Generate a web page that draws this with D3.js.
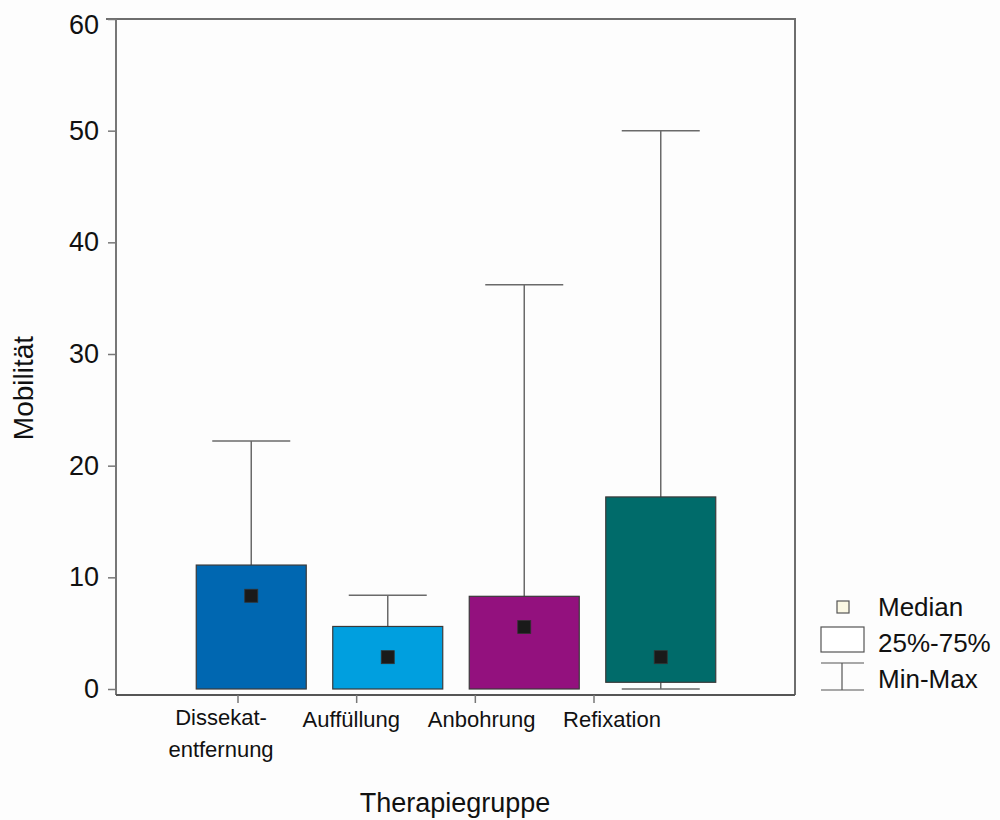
<!DOCTYPE html>
<html>
<head>
<meta charset="utf-8">
<script src="https://cdn.jsdelivr.net/npm/d3@7"></script>
<style>
body { margin: 0; background: #fdfdfd; }
svg { font-family: "Liberation Sans", Arial, sans-serif; }
</style>
</head>
<body>
<svg id="fig" width="1000" height="820"></svg>
<script>
// data
const groups = ["Dissekatentfernung", "Auffüllung", "Anbohrung", "Refixation"];
const groupLabels = [["Dissekat-", "entfernung"], ["Auffüllung"], ["Anbohrung"], ["Refixation"]];
const minVals = [0, 0, 0, 0];
const q25Vals = [0, 0, 0, 0.6];
const medianVals = [8.35, 2.85, 5.55, 2.85];
const q75Vals = [11.1, 5.6, 8.3, 17.2];
const maxVals = [22.2, 8.4, 36.2, 50.0];
const boxColors = ["#0067b1", "#009fdf", "#93117e", "#006b6a"];
const yTicks = [0, 10, 20, 30, 40, 50, 60];

const rows = groups.map((g, i) => ({
  g, label: groupLabels[i], min: minVals[i], q25: q25Vals[i],
  med: medianVals[i], q75: q75Vals[i], max: maxVals[i], color: boxColors[i]
}));

const frameL = 116, frameR = 795, frameT = 19, frameB = 695;
const svg = d3.select("#fig");

const y = d3.scaleLinear().domain([0, 60]).range([689, 19]);
const x = d3.scalePoint().domain(groups).range([183, 729]).padding(0.5);
const xTick = d3.scalePoint().domain(groups).range([238, 594]);
const xLab = d3.scalePoint().domain(groups).range([221, 612]);
const boxW = 110, capW = 78;

// frame
svg.append("path")
  .attr("d", `M${frameL - 10},${frameT}H${frameR}V${frameB}`)
  .attr("fill", "none").attr("stroke", "#6e6e6e").attr("stroke-width", 2);

// y axis
const yAxis = svg.append("g")
  .attr("transform", `translate(${frameL},0)`)
  .call(d3.axisLeft(y).tickValues(yTicks).tickSize(8).tickPadding(9));
yAxis.select(".domain").remove();
yAxis.selectAll("line").attr("stroke", "#777").attr("stroke-width", 1.5);
yAxis.selectAll("text").attr("font-size", 27).attr("fill", "#111")
  .attr("font-family", "Liberation Sans, Arial, sans-serif")
  .attr("dy", (d, i) => d === 60 ? "0.55em" : "0.32em");
svg.append("line").attr("x1", frameL).attr("x2", frameL).attr("y1", frameT).attr("y2", frameB)
  .attr("stroke", "#777").attr("stroke-width", 2);

// bottom line + ticks
svg.append("line").attr("x1", frameL).attr("x2", frameR).attr("y1", frameB).attr("y2", frameB)
  .attr("stroke", "#555").attr("stroke-width", 2);
svg.selectAll(".xtick").data(groups).join("line")
  .attr("x1", d => xTick(d)).attr("x2", d => xTick(d))
  .attr("y1", frameB).attr("y2", frameB + 8)
  .attr("stroke", "#777").attr("stroke-width", 1.5);

// whiskers
const wh = svg.append("g").attr("stroke", "#6a6a6a").attr("stroke-width", 1.5);
rows.forEach(d => {
  const cx = x(d.g);
  wh.append("line").attr("x1", cx).attr("x2", cx).attr("y1", y(d.max)).attr("y2", y(d.q75));
  wh.append("line").attr("x1", cx - capW / 2).attr("x2", cx + capW / 2).attr("y1", y(d.max)).attr("y2", y(d.max));
  if (d.q25 > d.min) {
    wh.append("line").attr("x1", cx).attr("x2", cx).attr("y1", y(d.q25)).attr("y2", y(d.min));
    wh.append("line").attr("x1", cx - capW / 2).attr("x2", cx + capW / 2).attr("y1", y(d.min)).attr("y2", y(d.min));
  }
});

// boxes
svg.selectAll(".box").data(rows).join("rect")
  .attr("x", d => x(d.g) - boxW / 2)
  .attr("y", d => y(d.q75))
  .attr("width", boxW)
  .attr("height", d => y(d.q25) - y(d.q75))
  .attr("fill", d => d.color)
  .attr("stroke", "#3a3a3a").attr("stroke-width", 1.2);

// medians
svg.selectAll(".med").data(rows).join("rect")
  .attr("x", d => x(d.g) - 6.5)
  .attr("y", d => y(d.med) - 6.5)
  .attr("width", 13).attr("height", 13)
  .attr("fill", "#1a1a1a").attr("stroke", "#333").attr("stroke-width", 0.8);

// category labels
const lab = svg.selectAll(".lab").data(rows).join("text")
  .attr("text-anchor", "middle")
  .attr("font-size", 22).attr("fill", "#111")
  .attr("transform", d => `translate(${xLab(d.g)},${d.label.length > 1 ? 725 : 727})`);
lab.selectAll("tspan").data(d => d.label).join("tspan")
  .attr("x", 0).attr("dy", (t, i) => i === 0 ? 0 : 32)
  .text(t => t);

// axis titles
svg.append("text").attr("x", 455).attr("y", 812).attr("text-anchor", "middle")
  .attr("font-size", 27).attr("fill", "#111").text("Therapiegruppe");
svg.append("text").attr("transform", "translate(33,388) rotate(-90)")
  .attr("text-anchor", "middle").attr("font-size", 28).attr("fill", "#111").text("Mobilität");

// legend
const lg = svg.append("g").attr("stroke", "#555").attr("stroke-width", 1.2);
lg.append("rect").attr("x", 837).attr("y", 601).attr("width", 12).attr("height", 12).attr("fill", "#fbf8e4");
lg.append("rect").attr("x", 821).attr("y", 627).attr("width", 43).attr("height", 25).attr("fill", "#fff");
lg.append("line").attr("x1", 821).attr("x2", 864).attr("y1", 663).attr("y2", 663);
lg.append("line").attr("x1", 842).attr("x2", 842).attr("y1", 663).attr("y2", 690);
lg.append("line").attr("x1", 821).attr("x2", 864).attr("y1", 690).attr("y2", 690);
const legendNames = ["Median", "25%-75%", "Min-Max"];
svg.selectAll(".lgt").data(legendNames).join("text")
  .attr("x", 878).attr("y", (d, i) => 616 + i * 36)
  .attr("font-size", 26).attr("fill", "#111").text(d => d);
</script>
</body>
</html>
